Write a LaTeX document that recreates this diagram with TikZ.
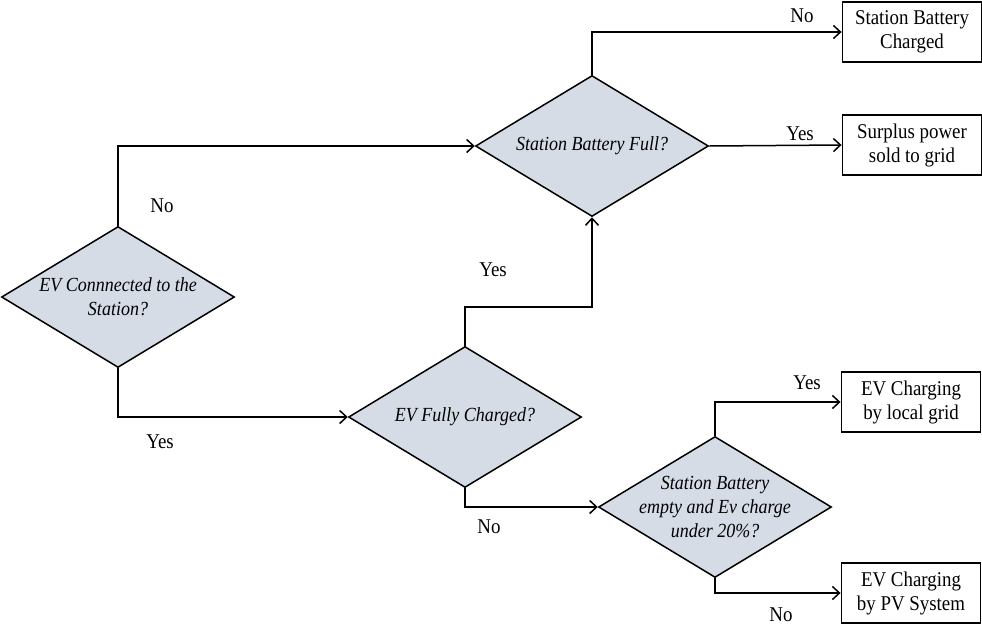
\documentclass[tikz,border=0pt]{standalone}
\usepackage{fontspec}
\setmainfont{Liberation Serif}[FakeStretch=0.9]
\usetikzlibrary{shapes.geometric,arrows.meta}
\definecolor{dfill}{HTML}{D6DCE5}
\begin{document}
\begin{tikzpicture}[x=1pt,y=-1pt,
  every node/.style={font=\fontsize{21}{24}\selectfont},
  dec/.style={shape=diamond,draw=black,line width=1.5pt,fill=dfill,minimum width=233pt,minimum height=141pt,inner sep=0pt},
  dtext/.style={align=center,font=\fontsize{20}{24}\selectfont\itshape},
  outbox/.style={draw=black,line width=1.9pt,minimum width=139pt,minimum height=60pt,align=center,inner sep=0pt},
  conn/.style={line width=1.5pt,-{Straight Barb[length=7pt,width=13pt,line width=1.5pt]}},
  lbl/.style={inner sep=0pt}]
\useasboundingbox (0,0) rectangle (982,627);
\node[dec,label={[dtext]center:EV Connnected to the\\Station?}] (d1) at (118,297) {};
\node[dec,label={[dtext]center:Station Battery Full?}] (d2) at (592,146) {};
\node[dec,label={[dtext]center:EV Fully Charged?}] (d3) at (465,417) {};
\node[dec,label={[dtext]center:Station Battery\\empty and Ev charge\\under 20\%?}] (d4) at (715,507) {};
\node[outbox] (b1) at (912,32) {Station Battery\\Charged};
\node[outbox] (b2) at (912,145) {Surplus power\\sold to grid};
\node[outbox] (b3) at (911,402) {EV Charging\\by local grid};
\node[outbox] (b4) at (911,593) {EV Charging\\by PV System};
\coordinate (k) at (465,307);
\draw[conn] (d1.north) |- (d2.west);
\draw[conn] (d1.south) |- (d3.west);
\draw[conn] (d3.north) -- (k) -| (d2.south);
\draw[conn] (d3.south) |- (d4.west);
\draw[conn] (d2.north) |- (b1.west);
\draw[conn] (d2.east) -- (b2.west);
\draw[conn] (d4.north) |- (b3.west);
\draw[conn] (d4.south) |- (b4.west);
\node[lbl] (l1) at (162,206) {No};
\node[lbl] (l2) at (160,442) {Yes};
\node[lbl] (l3) at (493,270) {Yes};
\node[lbl] (l4) at (489,527) {No};
\node[lbl] (l5) at (802,16) {No};
\node[lbl] (l6) at (800,134) {Yes};
\node[lbl] (l7) at (807,383) {Yes};
\node[lbl] (l8) at (781,615) {No};
\end{tikzpicture}
\end{document}
